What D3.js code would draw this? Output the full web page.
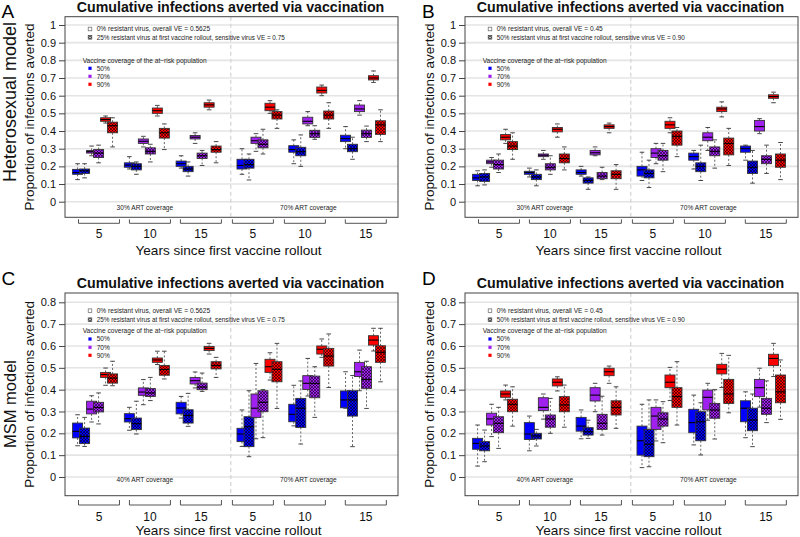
<!DOCTYPE html>
<html><head><meta charset="utf-8">
<script src="https://cdnjs.cloudflare.com/ajax/libs/d3/7.8.5/d3.min.js"></script>
<style>body{margin:0;background:#fff}svg{display:block;font-family:"Liberation Sans",Arial,Helvetica,sans-serif}</style>
</head><body><svg id="c" width="800" height="537"></svg>
<script>
// ---------------- data ----------------
const years = ["5", "10", "15"];
const coverages = ["50%", "70%", "90%"];
const coverageTitle = "Vaccine coverage of the at\u2212risk population";
const chartTitle = "Cumulative infections averted via vaccination";
const xTitle = "Years since first vaccine rollout";
const yTitle = "Proportion of infections averted";
const artHet = ["30% ART coverage", "70% ART coverage"];
const artMSM = ["40% ART coverage", "70% ART coverage"];
const legendScen1 = ["0% resistant virus, overall VE = 0.5625", "25% resistant virus at first vaccine rollout, sensitive virus VE = 0.75"];
const legendScen2 = ["0% resistant virus, overall VE = 0.45", "50% resistant virus at first vaccine rollout, sensitive virus VE = 0.90"];
const yTicksHet = [0, 0.1, 0.2, 0.3, 0.4, 0.5, 0.6, 0.7, 0.8, 0.9, 1];
const yTicksMSM = [0, 0.1, 0.2, 0.3, 0.4, 0.5, 0.6, 0.7, 0.8];
// each row: [min, q1, median, q3, max]; order: ART level -> year -> coverage -> (0% resistant, resistant)
const statsA = [
  [0.125,0.155,0.165,0.183,0.215],[0.135,0.16,0.175,0.185,0.215],[0.26,0.275,0.283,0.29,0.315],[0.22,0.25,0.275,0.295,0.32],[0.445,0.455,0.465,0.475,0.485],[0.31,0.39,0.43,0.45,0.475],
  [0.185,0.195,0.207,0.22,0.255],[0.155,0.18,0.2,0.215,0.225],[0.31,0.33,0.342,0.355,0.37],[0.225,0.27,0.285,0.305,0.325],[0.485,0.5,0.515,0.53,0.545],[0.295,0.36,0.39,0.415,0.44],
  [0.19,0.2,0.215,0.23,0.26],[0.145,0.17,0.185,0.2,0.225],[0.33,0.355,0.365,0.375,0.39],[0.205,0.245,0.26,0.275,0.29],[0.52,0.535,0.548,0.56,0.575],[0.22,0.28,0.295,0.315,0.34],
  [0.155,0.185,0.205,0.24,0.30],[0.123,0.19,0.21,0.24,0.27],[0.285,0.33,0.345,0.365,0.385],[0.27,0.305,0.325,0.35,0.41],[0.50,0.515,0.535,0.557,0.572],[0.415,0.468,0.49,0.51,0.52],
  [0.215,0.28,0.295,0.317,0.35],[0.2,0.26,0.283,0.308,0.378],[0.43,0.44,0.455,0.478,0.51],[0.353,0.364,0.385,0.404,0.43],[0.60,0.615,0.63,0.649,0.66],[0.415,0.468,0.49,0.513,0.56],
  [0.30,0.34,0.357,0.376,0.425],[0.24,0.283,0.3,0.325,0.365],[0.49,0.51,0.525,0.547,0.572],[0.34,0.364,0.385,0.405,0.428],[0.675,0.689,0.70,0.713,0.74],[0.34,0.381,0.435,0.458,0.52]
];
const statsB = [
  [0.09,0.12,0.135,0.155,0.175],[0.095,0.115,0.14,0.16,0.18],[0.195,0.215,0.225,0.235,0.25],[0.165,0.185,0.21,0.235,0.27],[0.33,0.35,0.365,0.38,0.41],[0.24,0.295,0.315,0.34,0.39],
  [0.14,0.155,0.165,0.172,0.19],[0.09,0.125,0.14,0.155,0.18],[0.24,0.255,0.263,0.27,0.29],[0.155,0.18,0.195,0.215,0.26],[0.365,0.395,0.41,0.42,0.44],[0.18,0.22,0.245,0.27,0.31],
  [0.145,0.155,0.165,0.18,0.2],[0.07,0.105,0.12,0.135,0.14],[0.26,0.265,0.277,0.29,0.31],[0.125,0.13,0.145,0.165,0.195],[0.39,0.415,0.425,0.435,0.445],[0.07,0.13,0.155,0.175,0.21],
  [0.12,0.145,0.18,0.2,0.28],[0.08,0.135,0.16,0.18,0.235],[0.215,0.25,0.275,0.3,0.33],[0.17,0.235,0.26,0.29,0.33],[0.39,0.415,0.435,0.455,0.475],[0.255,0.32,0.37,0.4,0.42],
  [0.185,0.235,0.255,0.275,0.29],[0.12,0.17,0.2,0.22,0.32],[0.29,0.345,0.365,0.39,0.42],[0.19,0.26,0.285,0.31,0.35],[0.48,0.51,0.525,0.535,0.565],[0.205,0.265,0.33,0.36,0.415],
  [0.235,0.28,0.3,0.315,0.32],[0.105,0.16,0.195,0.23,0.29],[0.385,0.4,0.425,0.46,0.47],[0.16,0.215,0.24,0.26,0.32],[0.56,0.585,0.595,0.605,0.62],[0.125,0.195,0.235,0.27,0.335]
];
const statsC = [
  [0.143,0.179,0.209,0.247,0.285],[0.14,0.153,0.186,0.224,0.273],[0.252,0.289,0.311,0.347,0.372],[0.243,0.298,0.319,0.342,0.385],[0.42,0.456,0.469,0.479,0.499],[0.418,0.43,0.453,0.472,0.53],
  [0.214,0.252,0.267,0.29,0.319],[0.197,0.217,0.244,0.27,0.347],[0.331,0.374,0.389,0.408,0.446],[0.35,0.369,0.385,0.405,0.456],[0.515,0.525,0.536,0.545,0.576],[0.449,0.466,0.492,0.511,0.576],
  [0.27,0.289,0.316,0.342,0.369],[0.232,0.247,0.282,0.308,0.383],[0.408,0.426,0.441,0.456,0.481],[0.392,0.4,0.412,0.43,0.476],[0.563,0.579,0.589,0.598,0.612],[0.456,0.495,0.511,0.528,0.548],
  [0.14,0.162,0.197,0.223,0.307],[0.093,0.139,0.23,0.276,0.395],[0.175,0.273,0.315,0.38,0.52],[0.18,0.299,0.342,0.395,0.40],[0.444,0.479,0.505,0.539,0.569],[0.314,0.436,0.493,0.528,0.612],
  [0.234,0.253,0.287,0.333,0.42],[0.151,0.227,0.315,0.36,0.44],[0.371,0.401,0.429,0.464,0.543],[0.273,0.363,0.429,0.462,0.505],[0.548,0.563,0.585,0.6,0.632],[0.41,0.508,0.554,0.589,0.655],
  [0.315,0.317,0.353,0.394,0.482],[0.139,0.279,0.353,0.395,0.465],[0.395,0.46,0.482,0.525,0.581],[0.314,0.406,0.447,0.505,0.53],[0.577,0.604,0.627,0.647,0.681],[0.436,0.525,0.571,0.601,0.681]
];
const statsD = [
  [0.05,0.127,0.154,0.177,0.238],[0.07,0.12,0.142,0.162,0.215],[0.185,0.238,0.266,0.292,0.333],[0.131,0.203,0.246,0.276,0.319],[0.353,0.365,0.38,0.394,0.421],[0.233,0.299,0.333,0.356,0.413],
  [0.12,0.172,0.197,0.249,0.279],[0.142,0.174,0.188,0.2,0.218],[0.265,0.304,0.319,0.363,0.38],[0.2,0.228,0.266,0.284,0.36],[0.394,0.417,0.434,0.449,0.459],[0.228,0.299,0.33,0.368,0.421],
  [0.175,0.21,0.233,0.273,0.307],[0.177,0.192,0.207,0.226,0.26],[0.299,0.348,0.375,0.409,0.429],[0.192,0.218,0.246,0.287,0.37],[0.429,0.464,0.482,0.498,0.508],[0.223,0.284,0.319,0.349,0.413],
  [0.043,0.1,0.166,0.233,0.333],[0.047,0.093,0.15,0.218,0.353],[0.165,0.218,0.279,0.319,0.353],[0.157,0.233,0.266,0.294,0.345],[0.35,0.409,0.434,0.467,0.502],[0.238,0.319,0.368,0.409,0.528],
  [0.147,0.203,0.249,0.31,0.375],[0.101,0.166,0.253,0.299,0.34],[0.26,0.307,0.365,0.398,0.429],[0.174,0.269,0.307,0.337,0.4],[0.41,0.472,0.494,0.516,0.566],[0.294,0.337,0.38,0.447,0.557],
  [0.18,0.253,0.315,0.349,0.39],[0.139,0.212,0.261,0.315,0.38],[0.32,0.368,0.409,0.447,0.498],[0.249,0.287,0.315,0.36,0.44],[0.46,0.51,0.543,0.562,0.612],[0.264,0.34,0.39,0.467,0.536]
];

// ---------------- styles / layout ----------------
const colors = ["#0000ff", "#a020f0", "#ff0000"];
const svg = d3.select("#c");
const defs = svg.append("defs");
colors.concat(["#bbbbbb"]).forEach((c, i) => {
  const p = defs.append("pattern").attr("id", "hatch" + i).attr("patternUnits", "userSpaceOnUse")
    .attr("width", 3).attr("height", 3);
  p.append("rect").attr("width", 3).attr("height", 3).attr("fill", c);
  p.append("path").attr("d", "M-1,-1L4,4M4,-1L-1,4").attr("stroke", "#000")
    .attr("stroke-width", 0.75).attr("stroke-opacity", 0.7);
});

const rows = {
  top: {title: 12, letter: 18, top: 16.7, bottom: 217.3, zero: 201.7, tickPx: 25, art: 210.3,
        br: 223.3, brTick: 4, yearBase: 237.5, xTitle: 255, model: 102, modelSize: 18,
        leg: [29, 37.3, 60.7, 68.3, 76.3, 84.3]},
  bot: {title: 288, letter: 285, top: 293, bottom: 495.7, zero: 477, tickPx: 302.3, art: 482.3,
        br: 505, brTick: 5, yearBase: 520.5, xTitle: 535, model: 404, modelSize: 16.5,
        leg: [310.7, 319.7, 330.7, 339, 347.3, 355.3]}
};

const panels = [
  {letter: "A", ox: 0,   row: rows.top, ticks: yTicksHet, tmax: 1,   stats: statsA, legend: legendScen1, art: artHet, model: "Heterosexual model"},
  {letter: "B", ox: 400, row: rows.top, ticks: yTicksHet, tmax: 1,   stats: statsB, legend: legendScen2, art: artHet, model: null},
  {letter: "C", ox: 0,   row: rows.bot, ticks: yTicksMSM, tmax: 0.8, stats: statsC, legend: legendScen1, art: artMSM, model: "MSM model"},
  {letter: "D", ox: 400, row: rows.bot, ticks: yTicksMSM, tmax: 0.8, stats: statsD, legend: legendScen2, art: artMSM, model: null}
];

const HALF = 23.5, GROUP = 7.4, COV = 2, VIR = 1, BOXW = 1.43;
const bracketCenters = [3.06, 10.34, 17.63, 25.06, 32.49, 41.2], bracketHalf = 2.93;

panels.forEach(P => {
  const R = P.row;
  const g = svg.append("g").attr("transform", `translate(${P.ox},0)`);
  const left = 65, right = 398;
  const x = d3.scaleLinear().domain([-1.8, 45.8]).range([left, right]);
  const y = d3.scaleLinear().domain([0, P.tmax]).range([R.zero, R.tickPx]);
  const cx = (left + right) / 2;

  // gridlines
  g.append("g").selectAll("line").data(P.ticks).join("line")
    .attr("x1", left).attr("x2", right).attr("y1", d => y(d)).attr("y2", d => y(d))
    .attr("stroke", "#e4e4e4").attr("stroke-width", 1.6);
  // separator
  g.append("line").attr("x1", x(21.9)).attr("x2", x(21.9)).attr("y1", R.top).attr("y2", R.bottom)
    .attr("stroke", "#cfcfcf").attr("stroke-width", 1.1).attr("stroke-dasharray", "4,3");

  // y axis
  const yAxis = d3.axisLeft(y).tickValues(P.ticks).tickFormat(d => d3.format("")(+d.toFixed(1))).tickSize(6).tickPadding(3);
  const ya = g.append("g").attr("transform", `translate(${left},0)`).call(yAxis);
  ya.select(".domain").remove();
  ya.selectAll(".tick line").attr("stroke", "#444");
  ya.selectAll(".tick text").attr("font-size", 11).attr("fill", "#111").attr("font-family", "Liberation Sans, Arial, sans-serif");

  // boxes
  const items = P.stats.map((s, i) => {
    const half = Math.floor(i / 18), yr = Math.floor((i % 18) / 6), cov = Math.floor((i % 6) / 2), vir = i % 2;
    return {s, cov, vir, pos: half * HALF + yr * GROUP + cov * COV + vir * VIR};
  });
  const bw = x(BOXW) - x(0);
  const bg = g.append("g");
  items.forEach(d => {
    const xc = x(d.pos), [mn, q1, md, q3, mx] = d.s;
    const gg = bg.append("g");
    gg.append("line").attr("x1", xc).attr("x2", xc).attr("y1", y(q3)).attr("y2", y(mx))
      .attr("stroke", "#555").attr("stroke-width", 0.9).attr("stroke-dasharray", "2,2");
    gg.append("line").attr("x1", xc).attr("x2", xc).attr("y1", y(q1)).attr("y2", y(mn))
      .attr("stroke", "#555").attr("stroke-width", 0.9).attr("stroke-dasharray", "2,2");
    [mn, mx].forEach(v => gg.append("line").attr("x1", xc - 2.3).attr("x2", xc + 2.3)
      .attr("y1", y(v)).attr("y2", y(v)).attr("stroke", "#333").attr("stroke-width", 0.9));
    gg.append("rect").attr("x", xc - bw / 2).attr("width", bw).attr("y", y(q3)).attr("height", y(q1) - y(q3))
      .attr("fill", d.vir ? `url(#hatch${d.cov})` : colors[d.cov]).attr("stroke", "#333").attr("stroke-width", 0.9);
    gg.append("line").attr("x1", xc - bw / 2).attr("x2", xc + bw / 2).attr("y1", y(md)).attr("y2", y(md))
      .attr("stroke", "#000").attr("stroke-width", 1.1);
  });

  // plot frame
  g.append("rect").attr("x", left).attr("y", R.top).attr("width", right - left).attr("height", R.bottom - R.top)
    .attr("fill", "none").attr("stroke", "#444").attr("stroke-width", 1);

  // ART labels
  g.selectAll(".art").data(P.art).join("text").attr("class", "art")
    .attr("x", (d, i) => i === 0 ? (left + x(21.9)) / 2 - 3 : (x(21.9) + right) / 2 - 6).attr("y", R.art)
    .attr("text-anchor", "middle").attr("font-size", 6.6).attr("fill", "#222").text(d => d);

  // brackets + year labels
  bracketCenters.forEach((c, i) => {
    const x0 = x(c - bracketHalf), x1 = x(c + bracketHalf);
    g.append("path").attr("d", `M${x0},${R.br - R.brTick}V${R.br}H${x1}V${R.br - R.brTick}`)
      .attr("fill", "none").attr("stroke", "#555").attr("stroke-width", 1);
    g.append("text").attr("x", x(c)).attr("y", R.yearBase).attr("text-anchor", "middle")
      .attr("font-size", 12).attr("fill", "#111").text(years[i % 3]);
  });

  // titles
  g.append("text").attr("x", cx - 1).attr("y", R.title).attr("text-anchor", "middle").attr("font-size", 14.2)
    .attr("font-weight", "bold").attr("fill", "#111").text(chartTitle);
  g.append("text").attr("x", cx - 3).attr("y", R.xTitle).attr("text-anchor", "middle").attr("font-size", 13.6)
    .attr("fill", "#111").text(xTitle);
  g.append("text").attr("transform", `translate(34,${(R.top + R.bottom) / 2}) rotate(-90)`).attr("text-anchor", "middle")
    .attr("font-size", 13.5).attr("fill", "#111").text(yTitle);
  if (P.model) {
    g.append("text").attr("transform", `translate(15.5,${R.model}) rotate(-90)`).attr("text-anchor", "middle")
      .attr("font-size", R.modelSize).attr("fill", "#111").text(P.model);
  }
  svg.append("text").attr("x", P.ox === 0 ? 1.5 : 422).attr("y", R.letter).attr("font-size", 19)
    .attr("fill", "#000").text(P.letter);

  // legend
  const L = R.leg, fs = 6.6;
  g.append("rect").attr("x", 88.2).attr("y", L[0] - 1.8).attr("width", 3.6).attr("height", 3.6)
    .attr("fill", "#fff").attr("stroke", "#666").attr("stroke-width", 0.7);
  g.append("rect").attr("x", 88.2).attr("y", L[1] - 1.8).attr("width", 3.6).attr("height", 3.6)
    .attr("fill", "url(#hatch3)").attr("stroke", "#444").attr("stroke-width", 0.7);
  P.legend.forEach((t, i) => {
    const tx = g.append("text").attr("x", 96.7).attr("y", L[i] + 2.3)
      .attr("font-size", fs).attr("fill", "#222").text(t);
    if (i === 1) tx.attr("textLength", 188).attr("lengthAdjust", "spacingAndGlyphs");
  });
  g.append("text").attr("x", 82.7).attr("y", L[2] + 2.3).attr("font-size", fs).attr("fill", "#222").text(coverageTitle);
  coverages.forEach((t, i) => {
    g.append("rect").attr("x", 88.4).attr("y", L[3 + i] - 1.6).attr("width", 3.2).attr("height", 3.2).attr("fill", colors[i]);
    g.append("text").attr("x", 96.7).attr("y", L[3 + i] + 2.3).attr("font-size", fs).attr("fill", "#222").text(t);
  });
});
</script></body></html>
